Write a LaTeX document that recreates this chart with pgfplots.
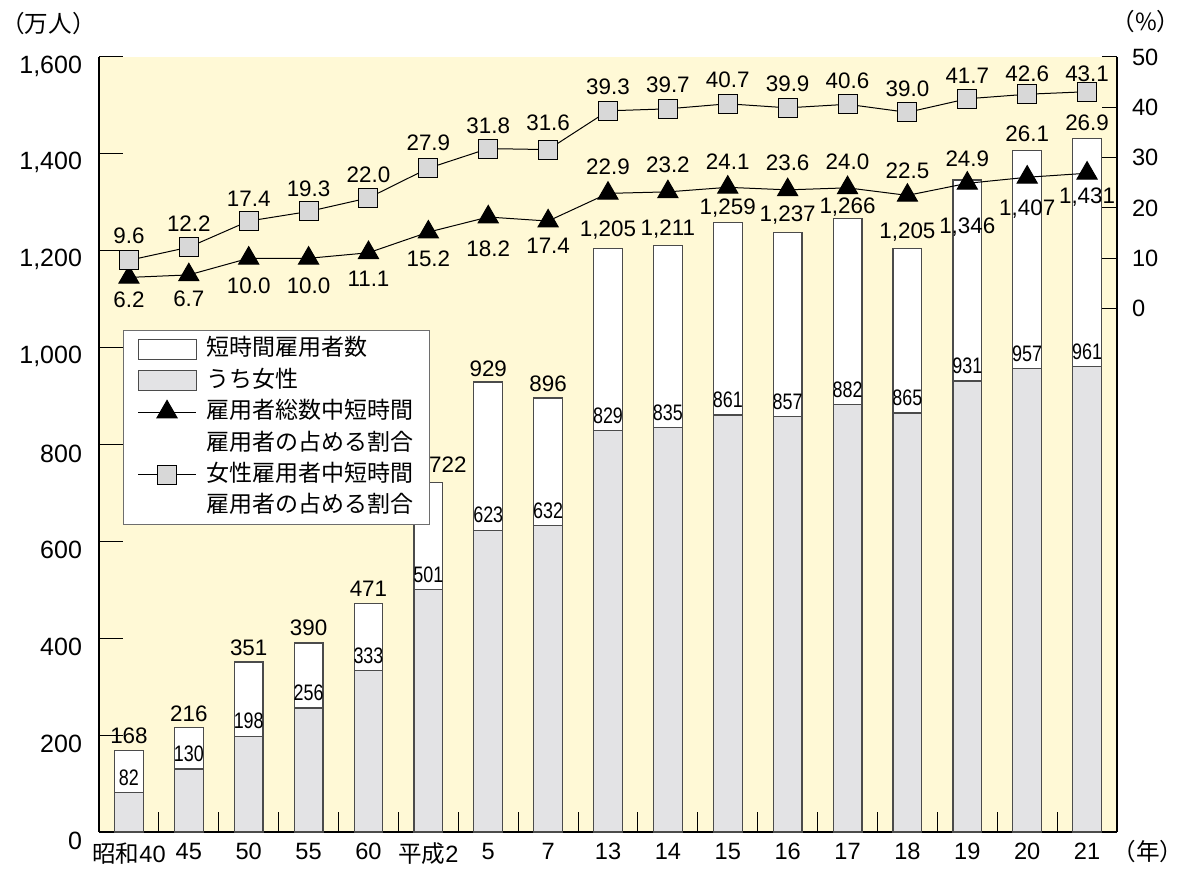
\documentclass[border=0pt]{standalone}
\usepackage{fontspec}
\setmainfont{Liberation Sans}
\newfontfamily\jp{Noto Sans CJK JP}
\usepackage{graphicx}
\usepackage{pgfplots}
\usepackage{pgfplotstable}
\pgfplotsset{compat=1.18}
\definecolor{bgyellow}{RGB}{255,249,214}
\definecolor{femgrey}{RGB}{227,227,229}
\definecolor{sqgrey}{RGB}{216,216,216}
\definecolor{barborder}{RGB}{75,75,75}
\definecolor{legborder}{RGB}{110,110,110}

\newcommand\tickfont{\fontsize{11.8}{14}\selectfont}
\newcommand\ytickfont{\fontsize{12.5}{14}\selectfont}
\newcommand\lblfont{\fontsize{11.2}{13}\selectfont}
\newcommand\jpfont{\fontsize{11.5}{14}\selectfont\jp}

\pgfplotsset{
  mybarlegend/.style={legend image code/.code={\draw[##1] (0pt,-5pt) rectangle (29pt,5pt);}},
  mylinelegend/.style={legend image code/.code={\draw[mark repeat=2,mark phase=2,##1] plot coordinates {(0pt,0pt) (14.5pt,0pt) (29pt,0pt)};}},
}

\pgfplotstableread{
x total fem tri sq tdy tdx trdy sqdy
0 168 82 6.2 9.6 7.5 0 -11 12.5
1 216 130 6.7 12.2 7 0 -12 11.7
2 351 198 10.0 17.4 7 0 -13.5 11
3 390 256 10.0 19.3 7.8 0 -13.5 11.5
4 471 333 11.1 22.0 7.5 0 -13 11.5
5 722 501 15.2 27.9 8.7 9.75 -13.5 12.5
6 929 623 18.2 31.8 6.5 0 -16 11.5
7 896 632 17.4 31.6 7 0 -12.5 13.3
8 1205 829 22.9 39.3 9 0 13.3 11.8
9 1211 835 23.2 39.7 8 0 13.5 12
10 1259 861 24.1 40.7 7 0 13 12
11 1237 857 23.6 39.9 9 0 13.5 12
12 1266 882 24.0 40.6 6 0 13 12
13 1205 865 22.5 39.0 8 0 12.5 12
14 1346 931 24.9 41.7 -23.3 0 12.5 11.3
15 1407 957 26.1 42.6 -29.3 0 21.5 10.3
16 1431 961 26.9 43.1 -28.9 0 25 9
}\data

\begin{document}
\begin{tikzpicture}
\pgfplotsset{
  /pgf/number format/assume math mode=true,
  common/.style={scale only axis, width=509pt, height=387.5pt,
    xmin=-0.5, xmax=16.5, clip=false,
    axis line style={-, line width=0.7pt, black},
    tick style={line width=0.5pt, black}, tick align=inside},
}
% ---------- bars, left axis ----------
\begin{axis}[common, ymin=0, ymax=1600,
  axis x line*=bottom, axis y line*=left,
  axis background/.style={fill=bgyellow},
  ytick={0,200,...,1600}, major tick length=12pt, scaled y ticks=false,
  yticklabel style={font=\ytickfont, xshift=-5pt, yshift=-4.5pt, /pgf/number format/1000 sep={,}},
  xtick={0,...,16},
  xticklabels={{\jp 昭和}40,45,50,55,60,{\jp 平成}2,5,7,13,14,15,16,17,18,19,20,21},
  xtick style={draw=none}, xticklabel style={font=\tickfont, yshift=-2pt},
]
\addplot[ybar, bar width=0.48, bar shift=0pt, fill=white, draw=barborder, line width=0.6pt,
  visualization depends on={\thisrow{tdy} \as \tdy},
  visualization depends on={\thisrow{tdx} \as \tdx},
  nodes near coords={\pgfmathprintnumber[1000 sep={,}]{\pgfplotspointmeta}},
  every node near coord/.append style={anchor=center, yshift=\tdy pt, xshift=\tdx pt, font=\lblfont, text=black, inner sep=0pt}]
  table[x=x, y=total] {\data};
\addplot[ybar, bar width=0.48, bar shift=0pt, fill=femgrey, draw=barborder, line width=0.6pt,
  nodes near coords={\scalebox{0.8}[1]{\pgfmathprintnumber{\pgfplotspointmeta}}},
  every node near coord/.append style={anchor=center, yshift=7.5pt, font=\lblfont, text=black, inner sep=0pt}]
  table[x=x, y=fem] {\data};
\node[anchor=west, inner sep=0pt, font=\jpfont\fontsize{11.8}{14}\selectfont] at (rel axis cs:0,1) [xshift=-49pt, yshift=16.5pt] {（万人）};
\node[anchor=west, inner sep=0pt, font=\jpfont\fontsize{11.8}{14}\selectfont] at (rel axis cs:1,0) [xshift=-2.5pt, yshift=-10pt] {（年）};
\node[anchor=west, inner sep=0pt, font=\jpfont\fontsize{11.8}{14}\selectfont] at (rel axis cs:1,1) [xshift=-3pt, yshift=17.5pt] {（\%）};
\end{axis}
% ---------- lines, right axis ----------
\begin{axis}[common, ymin=-104, ymax=50,
  axis x line=none, axis y line*=right,
  ytick={0,10,...,50}, major tick length=7.5pt,
  yticklabel style={font=\tickfont, xshift=4pt},
  legend cell align=left,
  legend style={at={(0.0236,0.6477)}, anchor=north west, draw=legborder, fill=white,
    line width=0.5pt, inner xsep=7pt, inner ysep=1.5pt, row sep=0pt, font=\jpfont,
    nodes={inner sep=1pt, text height=10.2pt, text depth=3.5pt},
    /tikz/every odd column/.append style={column sep=4pt}},
]
\addplot[black, line width=0.5pt, mark=triangle*, mark size=5.8pt, mark options={fill=black},
  point meta=y,
  visualization depends on={\thisrow{trdy} \as \trdy},
  nodes near coords={\pgfmathprintnumber[fixed, fixed zerofill, precision=1]{\pgfplotspointmeta}},
  every node near coord/.append style={anchor=center, yshift=\trdy pt, font=\lblfont, text=black, inner sep=0pt},
  forget plot]
  table[x=x, y=tri] {\data};
\addplot[black, line width=0.5pt, mark=square*, mark size=4.75pt, mark options={fill=sqgrey, draw=black},
  point meta=y,
  visualization depends on={\thisrow{sqdy} \as \sqdy},
  nodes near coords={\pgfmathprintnumber[fixed, fixed zerofill, precision=1]{\pgfplotspointmeta}},
  every node near coord/.append style={anchor=center, yshift=\sqdy pt, font=\lblfont, text=black, inner sep=0pt},
  forget plot]
  table[x=x, y=sq] {\data};
\addlegendimage{mybarlegend, fill=white, draw=barborder}
\addlegendentry{短時間雇用者数}
\addlegendimage{mybarlegend, fill=femgrey, draw=barborder}
\addlegendentry{うち女性}
\addlegendimage{mylinelegend, black, line width=0.5pt, mark=triangle*, mark size=5.8pt, mark options={fill=black}}
\addlegendentry{雇用者総数中短時間}
\addlegendimage{empty legend}
\addlegendentry{雇用者の占める割合}
\addlegendimage{mylinelegend, black, line width=0.5pt, mark=square*, mark size=4.75pt, mark options={fill=sqgrey, draw=black}}
\addlegendentry{女性雇用者中短時間}
\addlegendimage{empty legend}
\addlegendentry{雇用者の占める割合}
\end{axis}
% ---------- gap ticks on the x axis: a thin strip whose grid lines are the ticks ----------
\begin{axis}[scale only axis, width=509pt, height=10pt,
  xmin=0, xmax=17, ymin=0, ymax=1, clip=false,
  axis line style={draw=none},
  xtick={1,2,3,4,5,6,7,8,9,10,11,12,13,14,15,16},
  xticklabel=\empty, ytick=\empty, major tick length=0pt,
  xmajorgrids, major grid style={black, line width=0.5pt, solid}]
\addplot[draw=none, forget plot] table[x=x, y expr=0.5] {\data};
\end{axis}
\pgfresetboundingbox
\path[use as bounding box] (-49.5pt,-18pt) rectangle (543.5pt,416pt);
\end{tikzpicture}
\end{document}
